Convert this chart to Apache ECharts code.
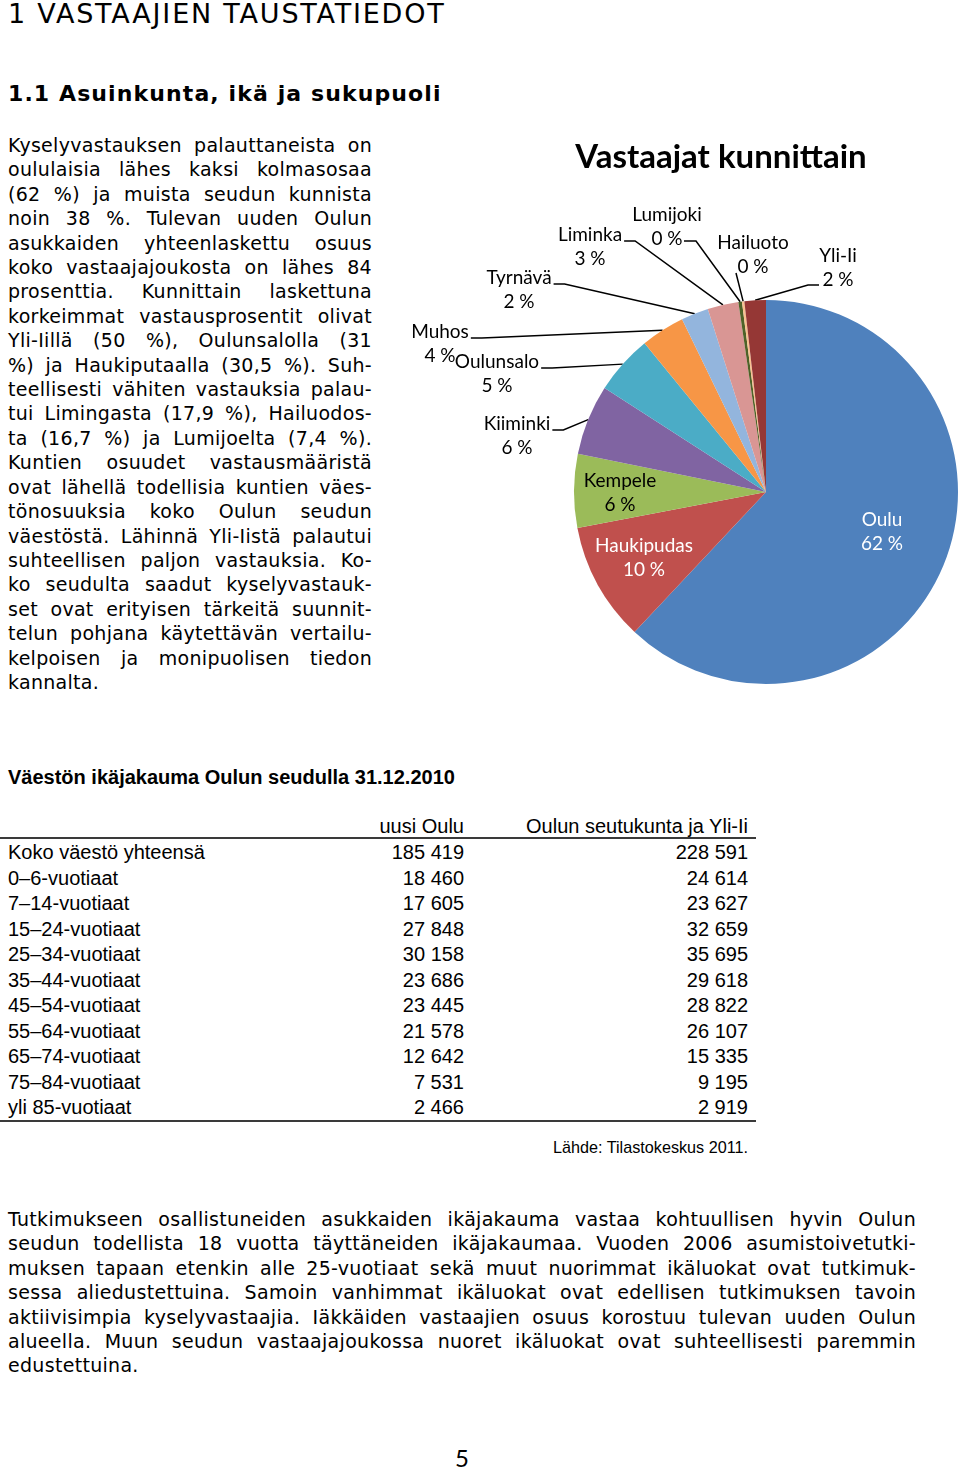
<!DOCTYPE html>
<html>
<head>
<meta charset="utf-8">
<title>Vastaajat kunnittain</title>
<script src="https://cdn.jsdelivr.net/npm/echarts@6/dist/echarts.min.js"></script>
<style>
html, body { margin: 0; padding: 0; background: #fff; }
body { width: 960px; height: 1468px; position: relative; overflow: hidden; color: #000; font-family: "DejaVu Sans", Verdana, sans-serif; }
.h1 { position: absolute; left: 8px; top: -3px; font-size: 27px; letter-spacing: 1.8px; line-height: 34px; white-space: nowrap; }
.h2 { position: absolute; left: 8px; top: 79px; font-size: 22px; letter-spacing: 1.1px; line-height: 30px; font-weight: bold; white-space: nowrap; }
.teksti { position: absolute; left: 8px; font-size: 19px; letter-spacing: 0.3px; line-height: 24.4px; }
.teksti div { text-align: justify; text-align-last: justify; white-space: nowrap; }
.teksti div.viim { text-align-last: left; }
#vasen { top: 133px; width: 364px; }
#ala { top: 1207px; width: 908px; }
#piirakka { position: absolute; left: 400px; top: 120px; width: 560px; height: 590px; }
.ttl { position: absolute; left: 8px; top: 765px; font-family: "Liberation Sans", Arial, sans-serif; font-weight: bold; font-size: 20px; line-height: 24px; white-space: nowrap; }
#taulu { position: absolute; left: 0; top: 0; width: 960px; font-family: "Liberation Sans", Arial, sans-serif; font-size: 20px; }
.rivi { position: absolute; left: 0; width: 756px; height: 25.5px; line-height: 25.5px; white-space: nowrap; }
.rivi span { position: absolute; }
.c1 { left: 8px; }
.c2 { right: 292px; }
.c3 { right: 8px; }
.viiva { position: absolute; left: 0; width: 756px; height: 2px; background: #3a3a3a; }
.lahde { position: absolute; right: 212px; top: 1137px; font-family: "Liberation Sans", Arial, sans-serif; font-size: 16.2px; line-height: 20px; white-space: nowrap; }
.sivu { position: absolute; left: 450px; width: 24px; text-align: center; top: 1443px; font-family: Lato, sans-serif; font-size: 24px; line-height: 30px; }
</style>
</head>
<body>
<div class="h1">1 VASTAAJIEN TAUSTATIEDOT</div>
<div class="h2">1.1 Asuinkunta, ikä ja sukupuoli</div>

<div class="teksti" id="vasen">
<div>Kyselyvastauksen palauttaneista on</div>
<div>oululaisia lähes kaksi kolmasosaa</div>
<div>(62 %) ja muista seudun kunnista</div>
<div>noin 38 %. Tulevan uuden Oulun</div>
<div>asukkaiden yhteenlaskettu osuus</div>
<div>koko vastaajajoukosta on lähes 84</div>
<div>prosenttia. Kunnittain laskettuna</div>
<div>korkeimmat vastausprosentit olivat</div>
<div>Yli-Iillä (50 %), Oulunsalolla (31</div>
<div>%) ja Haukiputaalla (30,5 %). Suh-</div>
<div>teellisesti vähiten vastauksia palau-</div>
<div>tui Limingasta (17,9 %), Hailuodos-</div>
<div>ta (16,7 %) ja Lumijoelta (7,4 %).</div>
<div>Kuntien osuudet vastausmääristä</div>
<div>ovat lähellä todellisia kuntien väes-</div>
<div>tönosuuksia koko Oulun seudun</div>
<div>väestöstä. Lähinnä Yli-Iistä palautui</div>
<div>suhteellisen paljon vastauksia. Ko-</div>
<div>ko seudulta saadut kyselyvastauk-</div>
<div>set ovat erityisen tärkeitä suunnit-</div>
<div>telun pohjana käytettävän vertailu-</div>
<div>kelpoisen ja monipuolisen tiedon</div>
<div class="viim">kannalta.</div>
</div>

<div id="piirakka"></div>

<div class="ttl">Väestön ikäjakauma Oulun seudulla 31.12.2010</div>
<div id="taulu"></div>
<div class="lahde">Lähde: Tilastokeskus 2011.</div>

<div class="teksti" id="ala">
<div>Tutkimukseen osallistuneiden asukkaiden ikäjakauma vastaa kohtuullisen hyvin Oulun</div>
<div>seudun todellista 18 vuotta täyttäneiden ikäjakaumaa. Vuoden 2006 asumistoivetutki-</div>
<div>muksen tapaan etenkin alle 25-vuotiaat sekä muut nuorimmat ikäluokat ovat tutkimuk-</div>
<div>sessa aliedustettuina. Samoin vanhimmat ikäluokat ovat edellisen tutkimuksen tavoin</div>
<div>aktiivisimpia kyselyvastaajia. Iäkkäiden vastaajien osuus korostuu tulevan uuden Oulun</div>
<div>alueella. Muun seudun vastaajajoukossa nuoret ikäluokat ovat suhteellisesti paremmin</div>
<div class="viim">edustettuina.</div>
</div>

<div class="sivu">5</div>

<script>
// piirakan data: osuus vastaajista (%)
var kunnat = ['Oulu', 'Haukipudas', 'Kempele', 'Kiiminki', 'Oulunsalo', 'Muhos', 'Tyrnävä', 'Liminka', 'Lumijoki', 'Hailuoto', 'Yli-Ii'];
var osuudet = [62.0, 10.0, 6.2, 5.9, 5.0, 3.7, 2.3, 2.6, 0.3, 0.2, 1.8];

// taulukon data
var otsikot = ['uusi Oulu', 'Oulun seutukunta ja Yli-Ii'];
var ikaryhmat = ['Koko väestö yhteensä', '0–6-vuotiaat', '7–14-vuotiaat', '15–24-vuotiaat', '25–34-vuotiaat', '35–44-vuotiaat',
    '45–54-vuotiaat', '55–64-vuotiaat', '65–74-vuotiaat', '75–84-vuotiaat', 'yli 85-vuotiaat'];
var uusiOulu = [185419, 18460, 17605, 27848, 30158, 23686, 23445, 21578, 12642, 7531, 2466];
var seutukunta = [228591, 24614, 23627, 32659, 35695, 29618, 28822, 26107, 15335, 9195, 2919];

// tyylit
var varit = ['#4F81BD', '#C0504D', '#9BBB59', '#8064A2', '#4BACC6', '#F79646', '#93B5DD', '#D99694', '#4F6228', '#FAC090', '#953735'];
var sisaVarit = { 'Oulu': '#fff', 'Haukipudas': '#fff', 'Kempele': '#000' };
// nimiön keskipiste (kaavion koordinaatit) ja viivan kiinnityskohta
var nimioPaikat = {
    'Oulu': [482, 412, 'in'],
    'Haukipudas': [244, 438, 'in'],
    'Kempele': [220, 373, 'in'],
    'Kiiminki': [117, 316, 'r1'],
    'Oulunsalo': [97, 254, 'r1'],
    'Muhos': [40, 224, 'r1'],
    'Tyrnävä': [119, 170, 'r1'],
    'Liminka': [190, 127, 'r1'],
    'Lumijoki': [267, 107, 'r2'],
    'Hailuoto': [353, 135, 'b'],
    'Yli-Ii': [438, 148, 'l2']
};

/* taulukko */
function muotoile(n) {
    return String(n).replace(/\B(?=(\d{3})+(?!\d))/g, ' ');
}
var taulu = document.getElementById('taulu');
var html = '<div class="rivi" style="top:814px"><span class="c2">' + otsikot[0] + '</span><span class="c3">' + otsikot[1] + '</span></div>';
html += '<div class="viiva" style="top:837px"></div>';
for (var i = 0; i < ikaryhmat.length; i++) {
    var rivinYla = 853 + 25.5 * i - 12.75;
    html += '<div class="rivi" style="top:' + rivinYla + 'px"><span class="c1">' + ikaryhmat[i] + '</span><span class="c2">' + muotoile(uusiOulu[i]) +
        '</span><span class="c3">' + muotoile(seutukunta[i]) + '</span></div>';
}
html += '<div class="viiva" style="top:1120px"></div>';
taulu.innerHTML = html;

/* piirakka */
var chart = echarts.init(document.getElementById('piirakka'));
var LH = 24;

function kiinnitys(paikka, w) {
    var cx = paikka[0], cy = paikka[1], ax, ay, ex, ey;
    if (paikka[2] === 'r1') {
        ax = cx + w / 2 + 2; ay = cy - LH / 2 + 6; ex = ax + 11; ey = ay;
    } else if (paikka[2] === 'r2') {
        ax = cx + 17; ay = cy + LH / 2 + 2; ex = ax + 12; ey = ay;
    } else if (paikka[2] === 'l2') {
        ax = cx - 19; ay = cy + LH / 2 + 5; ex = ax - 11; ey = ay;
    } else {
        ax = cx - 17; ay = cy + LH / 2 + 6; ex = null;
    }
    return { a: [ax, ay], e: ex === null ? null : [ex, ey] };
}

var data = kunnat.map(function (nimi, i) {
    var item = { name: nimi, value: osuudet[i], itemStyle: { color: varit[i] } };
    if (sisaVarit[nimi]) {
        item.label = { position: 'inside', color: sisaVarit[nimi] };
        item.labelLine = { show: false };
    }
    return item;
});

var option = {
    animation: false,
    title: {
        text: 'Vastaajat kunnittain',
        left: 316,
        top: 16,
        textAlign: 'center',
        textStyle: { fontFamily: 'Lato', fontWeight: 'bold', fontSize: 33, color: '#000' }
    },
    series: [{
        type: 'pie',
        center: [366, 372],
        radius: 192,
        startAngle: 90,
        clockwise: true,
        avoidLabelOverlap: false,
        emphasis: { disabled: true },
        itemStyle: { borderWidth: 0 },
        label: {
            show: true,
            position: 'outside',
            fontFamily: 'Lato',
            fontSize: 19,
            lineHeight: LH,
            color: '#000',
            formatter: function (p) {
                return p.name + '\n' + Math.round(p.percent) + ' %';
            }
        },
        labelLine: {
            show: true,
            length: 10,
            length2: 10,
            lineStyle: { color: '#000', width: 1.5 }
        },
        labelLayout: function (p) {
            var paikka = nimioPaikat[kunnat[p.dataIndex]];
            var out = { x: paikka[0], y: paikka[1], align: 'center', verticalAlign: 'middle' };
            if (paikka[2] !== 'in' && p.labelLinePoints) {
                var reuna = p.labelLinePoints[0];
                var k = kiinnitys(paikka, p.labelRect.width);
                var keski = k.e || [(reuna[0] + k.a[0]) / 2, (reuna[1] + k.a[1]) / 2];
                out.labelLinePoints = [[reuna[0], reuna[1]], keski, k.a];
            }
            return out;
        },
        data: data
    }]
};
chart.setOption(option);
window.addEventListener('resize', function () {
    chart.resize();
});
</script>
</body>
</html>
